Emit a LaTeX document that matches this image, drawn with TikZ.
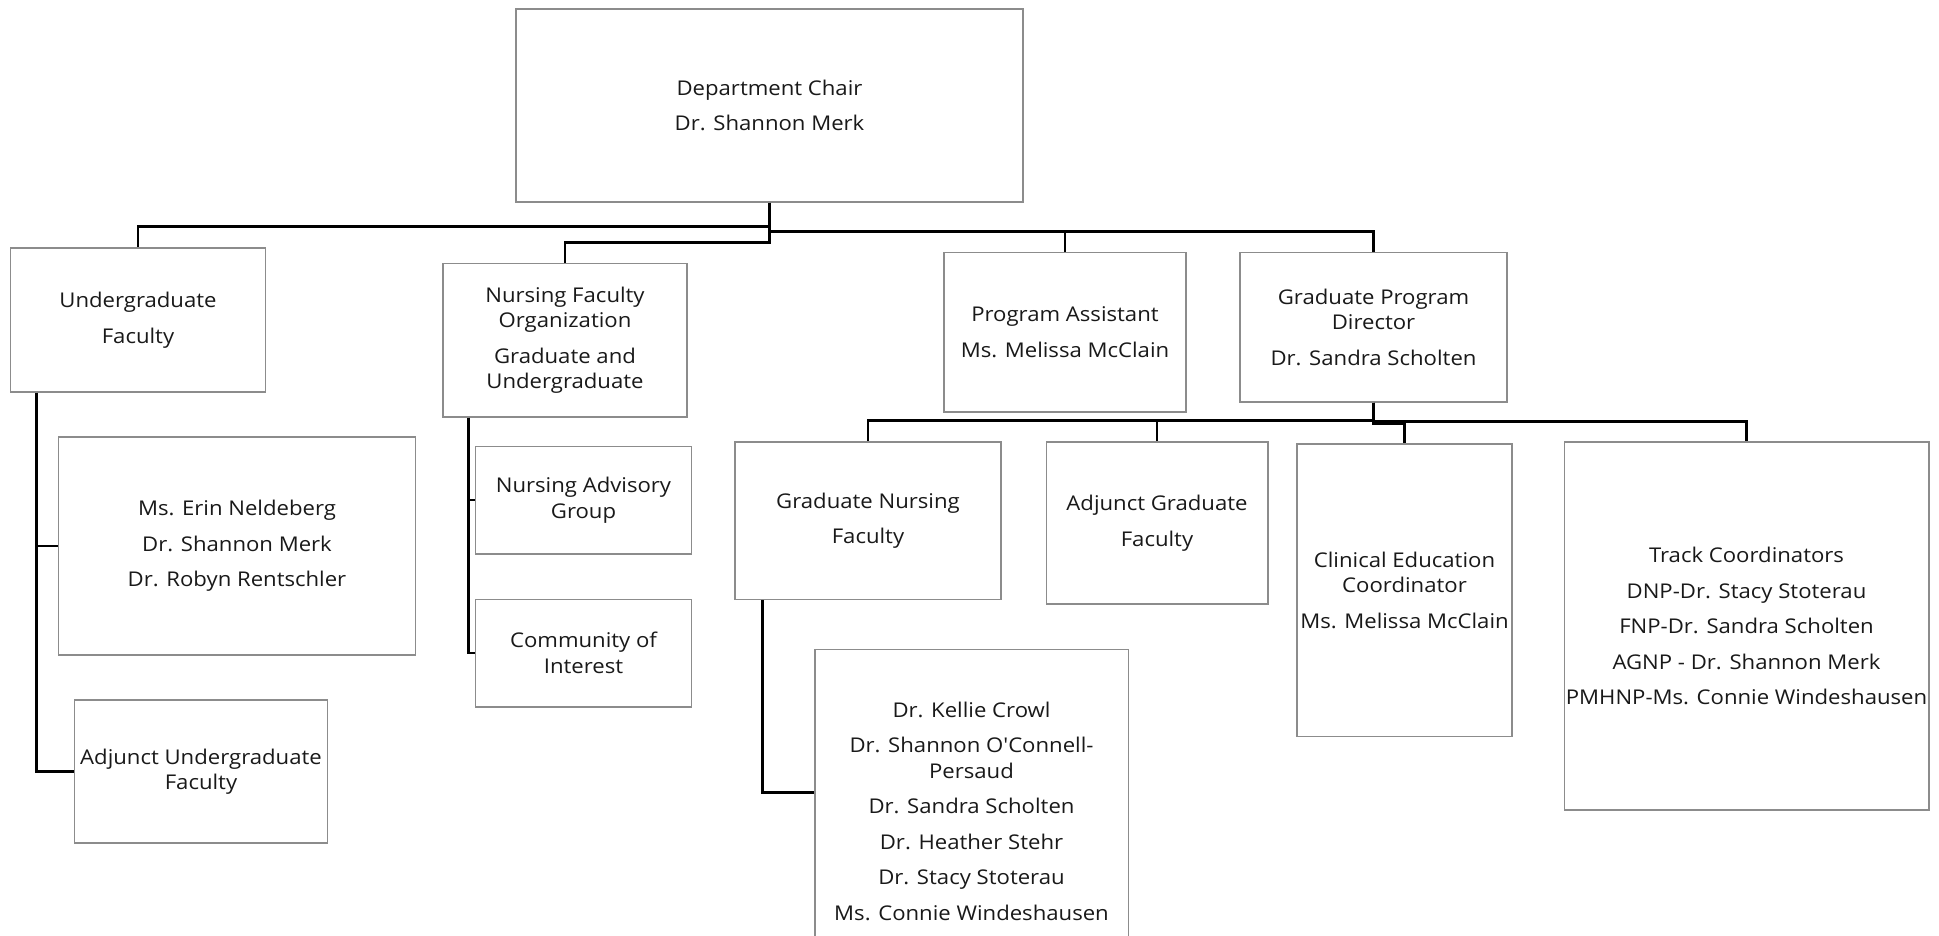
\documentclass[tikz,border=0pt]{standalone}
\usepackage{fontspec}
\usetikzlibrary{calc}
\newfontfamily\boxfont[FakeStretch=1.09]{Open Sans}
\definecolor{boxgray}{RGB}{140,140,140}
\definecolor{textc}{RGB}{25,25,25}
\tikzset{
  orgbox/.style={draw=boxgray, line width=1.5pt, align=center, inner sep=0pt,
    text=textc, font=\boxfont\fontsize{20.3}{25.5}\selectfont},
  conn/.style={draw=black, line width=2.6pt}
}
\newcommand{\pgap}{\\[10pt]}
\begin{document}
\begin{tikzpicture}[x=1pt,y=-1pt]
\useasboundingbox (0,0) rectangle (1939,935);
\clip (0,0) rectangle (1939,935);
\fill[white] (0,0) rectangle (1939,935);

\node[orgbox, minimum width=507, minimum height=193] (chair) at (769.5,105.5) {Department Chair\pgap Dr. Shannon Merk};

\node[orgbox, minimum width=255, minimum height=144] (uf) at (138,320) {Undergraduate\pgap Faculty};
\node[orgbox, minimum width=357, minimum height=218] (ufm) at (237,546) {Ms. Erin Neldeberg\pgap Dr. Shannon Merk\pgap Dr. Robyn Rentschler};
\node[orgbox, minimum width=253, minimum height=143] (auf) at (201,771.5) {Adjunct Undergraduate\\Faculty};

\node[orgbox, minimum width=244, minimum height=153.5] (nfo) at (565,340) {Nursing Faculty\\Organization\pgap Graduate and\\Undergraduate};
\node[orgbox, minimum width=216, minimum height=107.5] (nag) at (583.5,500) {Nursing Advisory\\Group};
\node[orgbox, minimum width=216, minimum height=107.5] (coi) at (583.5,653) {Community of\\Interest};

\node[orgbox, minimum width=242, minimum height=159.5] (pa) at (1065,332) {Program Assistant\pgap Ms. Melissa McClain};
\node[orgbox, minimum width=267, minimum height=149.5] (gpd) at (1373.5,327) {Graduate Program\\Director\pgap Dr. Sandra Scholten};

\node[orgbox, minimum width=266, minimum height=157.5] (gnf) at (868,520.5) {Graduate Nursing\pgap Faculty};
\node[orgbox, minimum width=221.5, minimum height=162] (agf) at (1157,523) {Adjunct Graduate\pgap Faculty};
\node[orgbox, minimum width=215, minimum height=292.5] (cec) at (1404.5,590) {Clinical Education\\Coordinator\pgap Ms. Melissa McClain};
\node[orgbox, minimum width=364.5, minimum height=368] (tc) at (1746.5,626) {Track Coordinators\pgap DNP-Dr. Stacy Stoterau\pgap FNP-Dr. Sandra Scholten\pgap AGNP - Dr. Shannon Merk\pgap PMHNP-Ms. Connie Windeshausen};
\node[orgbox, minimum width=313.5, minimum height=323] (gnfm) at (971.5,811) {Dr. Kellie Crowl\pgap Dr. Shannon O'Connell-\\Persaud\pgap Dr. Sandra Scholten\pgap Dr. Heather Stehr\pgap Dr. Stacy Stoterau\pgap Ms. Connie Windeshausen};

% connectors from the chair
\draw[conn] (chair.south) -- ++(0,24) -| (uf.north);
\draw[conn] (chair.south) -- ++(0,40) -| (nfo.north);
\draw[conn] (chair.south) -- ++(0,28.5) -| (pa.north);
\draw[conn] (chair.south) -- ++(0,28.5) -| (gpd.north);

% undergraduate faculty
\draw[conn] ($(uf.south west)+(26.5,0)$) |- (ufm.west);
\draw[conn] ($(uf.south west)+(26.5,0)$) |- (auf.west);

% nursing faculty organization
\draw[conn] ($(nfo.south west)+(26,0)$) |- (nag.west);
\draw[conn] ($(nfo.south west)+(26,0)$) |- (coi.west);

% graduate program director
\draw[conn] (gpd.south) -- ++(0,18) -| (gnf.north);
\draw[conn] (gpd.south) -- ++(0,18) -| (agf.north);
\draw[conn] (gpd.south) -- ++(0,19) -| (tc.north);
\draw[conn] (gpd.south) -- ++(0,21.5) -| (cec.north);

% graduate nursing faculty
\draw[conn] ($(gnf.south west)+(28,0)$) |- ($(gnfm.north west)+(0,144)$);
\end{tikzpicture}
\end{document}
